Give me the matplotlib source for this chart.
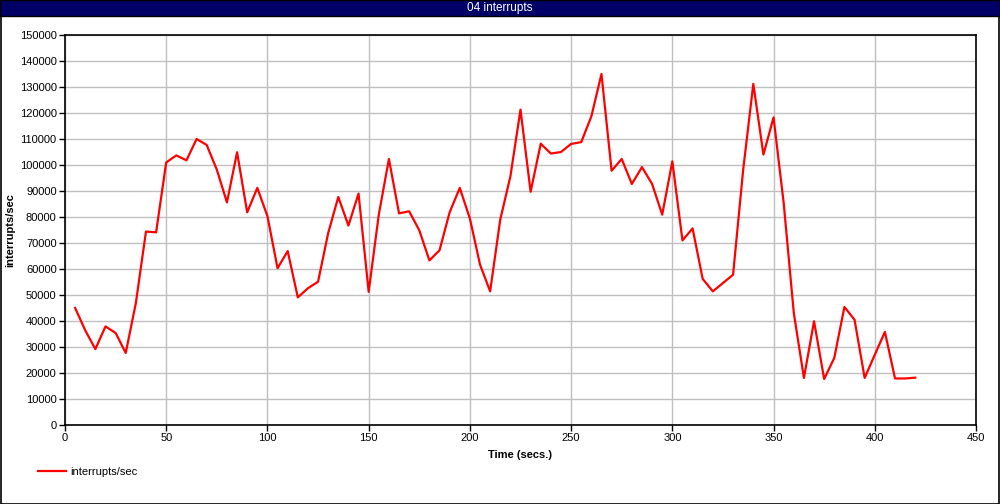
import matplotlib
matplotlib.use("Agg")
import matplotlib.pyplot as plt
from matplotlib.patches import Rectangle

plt.rcParams['font.family'] = ['Liberation Sans', 'DejaVu Sans']

title = "04 interrupts"
series_name = "interrupts/sec"
x_label = "Time (secs.)"
y_label = "interrupts/sec"

time_s = list(range(5, 421, 5))
interrupts = [
    45000, 36400, 29200, 37900, 35400, 27700, 46900, 74400, 74100, 101000,
    103700, 101800, 110000, 107700, 98200, 85600, 104900, 81800, 91200, 80300,
    60300, 66900, 49100, 52600, 55100, 73800, 87700, 76700, 89000, 51200,
    80900, 102300, 81400, 82200, 74900, 63300, 67200, 81800, 91200, 79400,
    61700, 51400, 79000, 95600, 121300, 89700, 108200, 104400, 105000, 108100,
    108800, 118700, 135000, 97800, 102300, 92700, 99200, 92700, 80900, 101400,
    71000, 75600, 56200, 51400, 54600, 57800, 98200, 131200, 104000, 118300,
    85400, 43100, 18100, 39900, 17700, 25800, 45400, 40500, 18100, 27000,
    35800, 17900, 17900, 18200,
]
x_ticks = list(range(0, 451, 50))
y_ticks = list(range(0, 150001, 10000))

W, H = 1000, 504
fig = plt.figure(figsize=(W / 100, H / 100), dpi=100)
fig.patch.set_facecolor('white')

# outer border and title bar
fig.add_artist(Rectangle((0.5 / W, 0.5 / H), 1 - 1.5 / W, 1 - 1.5 / H,
                         transform=fig.transFigure, fill=False,
                         edgecolor='black', linewidth=1.2))
fig.add_artist(Rectangle((0, 1 - 16 / H), 1, 16 / H, transform=fig.transFigure,
                         facecolor='#000066', edgecolor='black', linewidth=1.0))
fig.text(0.5, 1 - 8 / H, title, color='white', ha='center', va='center',
         fontsize=8.5)

left, right, top, bottom = 65, 976, 35, 425
ax = fig.add_axes([left / W, 1 - bottom / H, (right - left) / W, (bottom - top) / H])

line, = ax.plot(time_s, interrupts, color='#ff0000', linewidth=1.6,
                label=series_name)

ax.set_xlim(0, 450)
ax.set_ylim(0, 150000)
ax.set_xticks(x_ticks)
ax.set_yticks(y_ticks)
ax.set_xticklabels([str(t) for t in x_ticks])
ax.set_yticklabels([str(t) for t in y_ticks])
ax.grid(True, color='#c0c0c0', linewidth=1.0)
ax.set_axisbelow(True)
for s in ax.spines.values():
    s.set_linewidth(1.2)
    s.set_color('black')
ax.tick_params(direction='out', length=4, width=1, labelsize=8, pad=2,
               colors='black')

ax.set_xlabel(x_label, fontsize=8, fontweight='bold', labelpad=5)
ax.set_ylabel(y_label, fontsize=8, fontweight='bold', labelpad=3)

fig.legend(handles=[line], loc='center left',
           bbox_to_anchor=(28 / W, 1 - 472 / H), frameon=False, fontsize=8,
           handlelength=2.5, handletextpad=0.4)

fig.savefig('out.png', dpi=100)
